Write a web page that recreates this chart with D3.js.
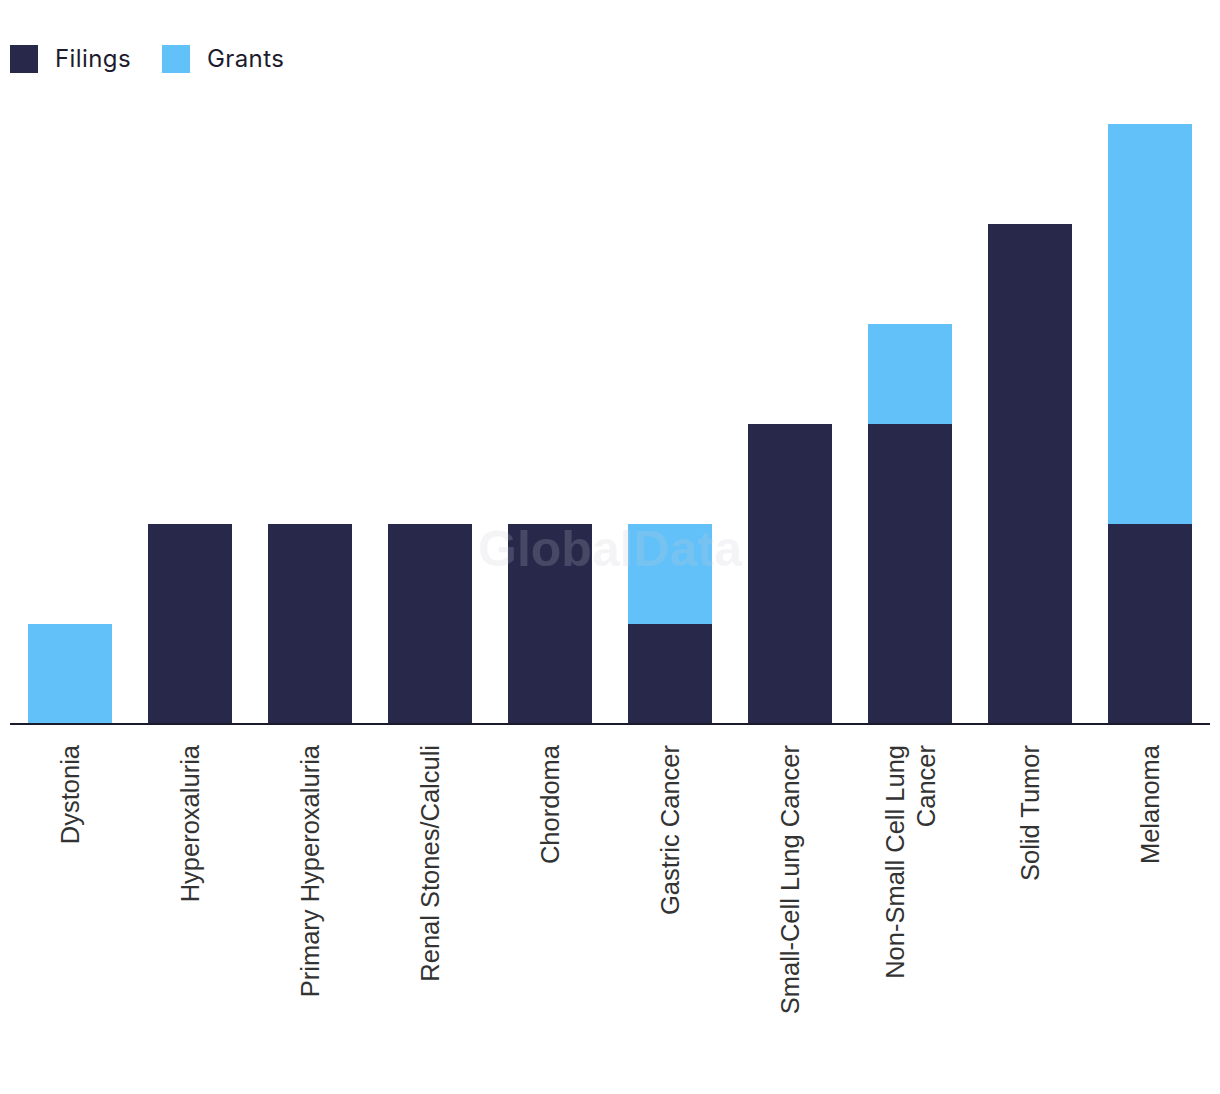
<!DOCTYPE html>
<html><head><meta charset="utf-8">
<script src="https://cdn.jsdelivr.net/npm/d3@7"></script>
<style>body{margin:0;background:#fff}</style>
</head><body>
<svg id="chart" width="1220" height="1094"></svg>
<script>
const categories = ["Dystonia","Hyperoxaluria","Primary Hyperoxaluria","Renal Stones/Calculi","Chordoma","Gastric Cancer","Small-Cell Lung Cancer","Non-Small Cell Lung Cancer","Solid Tumor","Melanoma"];
const filings = [0,2,2,2,2,1,3,3,5,2];
const grants  = [1,0,0,0,0,1,0,1,0,4];
const seriesNames = ["Filings","Grants"];
const colors = ["#27284A","#62C1F9"];

const svg = d3.select("#chart");
const x = d3.scaleBand().domain(categories).range([10,1210]).paddingInner(0.3).paddingOuter(0.15);
const y = d3.scaleLinear().domain([0,6]).range([724,124]);

const rows = categories.map((c,i)=>({cat:c, Filings:filings[i], Grants:grants[i]}));
const stack = d3.stack().keys(seriesNames)(rows);

svg.append("g").selectAll("g").data(stack).join("g")
  .attr("fill",(d,i)=>colors[i])
  .selectAll("rect").data(d=>d).join("rect")
  .attr("x",d=>x(d.data.cat))
  .attr("width",x.bandwidth())
  .attr("y",d=>y(d[1]))
  .attr("height",d=>y(d[0])-y(d[1]));

// watermark
svg.append("text").attr("x",610).attr("y",566).attr("text-anchor","middle")
  .attr("font-family","Liberation Sans, Arial, sans-serif").attr("font-weight","bold")
  .attr("font-size",50).attr("fill","#c8c8d0").attr("fill-opacity",0.2).text("GlobalData");

// axis
const ax = svg.append("g").attr("transform","translate(0,724)")
  .call(d3.axisBottom(x).tickSize(0).tickPadding(0));
ax.select(".domain").attr("stroke","#1b1b2e").attr("stroke-width",2).attr("d","M10,0H1210");
ax.selectAll(".tick text").remove();
ax.selectAll(".tick").each(function(d){
  const g = d3.select(this);
  const lines = d==="Non-Small Cell Lung Cancer" ? ["Non-Small Cell Lung","Cancer"] : [d];
  const t = g.append("text").attr("transform","rotate(-90)")
    .attr("text-anchor","end").attr("fill","#333")
    .attr("font-family","Liberation Sans, Arial, sans-serif").attr("font-size",25.5);
  const n = lines.length;
  lines.forEach((l,i)=>{
    t.append("tspan").attr("x",-21).attr("y",(i-(n-1)/2)*31 + 9).text(l);
  });
});

// legend
const leg = svg.append("g");
const lx = [10,162];
seriesNames.forEach((s,i)=>{
  leg.append("rect").attr("x",lx[i]).attr("y",45).attr("width",28).attr("height",28).attr("fill",colors[i]);
  leg.append("text").attr("x",lx[i]+45).attr("y",67).attr("font-family","Inter, sans-serif")
    .attr("font-size",24).attr("letter-spacing",0.4).attr("fill","#1c1c2e").text(s);
});
</script>
</body></html>
